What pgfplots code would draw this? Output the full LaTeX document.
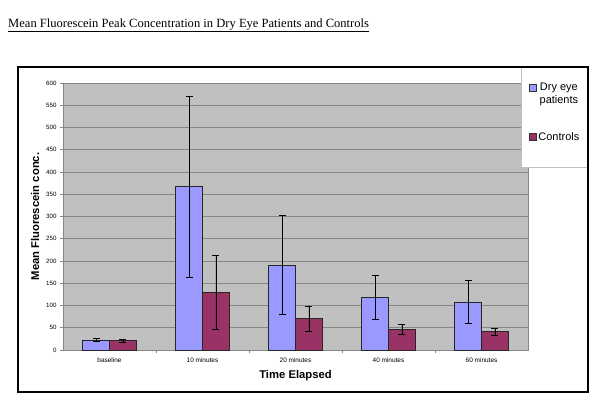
\documentclass[border=0pt]{standalone}
\usepackage{pgfplots}
\pgfplotsset{compat=1.18}
\usepackage{fontspec}
\setmainfont{Liberation Sans}
\newfontfamily\serif{Liberation Serif}
\definecolor{dryeye}{HTML}{9999FF}
\definecolor{ctrl}{HTML}{993366}
\definecolor{plotbg}{HTML}{C0C0C0}
\definecolor{gridc}{HTML}{868686}
\pgfplotsset{
  legimgA/.style={legend image code/.code={\draw[##1, draw=black!80, line width=0.6pt] (0bp,3bp) rectangle (7bp,10bp);}},
  legimgB/.style={legend image code/.code={\draw[##1, draw=black!80, line width=0.6pt] (0bp,-3.5bp) rectangle (7bp,3.5bp);}},
}
\pgfplotstableread{
x y err
0 22.5 3
1 367 203
2 191 111
3 118 49
4 108 49
}\dryeyedata
\pgfplotstableread{
x y err
0 21 3
1 129 83
2 70 29
3 46 11
4 41 8
}\controldata
\begin{document}
\begin{tikzpicture}[x=1bp,y=1bp]
\useasboundingbox (0,0) rectangle (600,407);
\node[anchor=base west, inner sep=0] at (8,380) {\serif\fontsize{12.6}{14}\selectfont\underline{Mean Fluorescein Peak Concentration in Dry Eye Patients and Controls}};
\begin{axis}[
  at={(63bp,57bp)}, anchor=south west,
  scale only axis, width=465bp, height=267bp,
  xmin=-0.5, xmax=4.5, ymin=0, ymax=600,
  ybar=0pt, bar width=0.29,
  axis background/.style={fill=plotbg},
  axis line style={gridc, line width=0.8pt},
  ymajorgrids, grid style={gridc, line width=0.8pt},
  ytick={0,50,...,600},
  xtick={0,1,2,3,4},
  xticklabels={baseline,10 minutes,20 minutes,40 minutes,60 minutes},
  minor xtick={0.5,1.5,2.5,3.5},
  major x tick style={draw=none},
  minor tick length=3bp,
  tick style={gridc, line width=0.6pt},
  major tick length=3bp,
  ytick pos=left, xtick pos=bottom,
  tick align=outside,
  yticklabel style={font=\fontsize{6.2}{7}\selectfont},
  xticklabel style={font=\fontsize{6.5}{7.5}\selectfont, yshift=-1bp},
  /pgf/number format/assume math mode=true,
  xlabel={Time Elapsed},
  ylabel={Mean Fluorescein conc.},
  xlabel style={font=\bfseries\fontsize{11.3}{13}\selectfont, at={(axis description cs:0.5,-0.097)}, anchor=center},
  ylabel style={font=\bfseries\fontsize{11.3}{13}\selectfont, at={(axis description cs:-0.06,0.5)}, anchor=center},
  clip=false,
  legend style={at={(axis description cs:0.995,1.015)}, anchor=north west, draw=none, fill=none,
    font=\fontsize{11}{13}\selectfont, row sep=23bp, nodes={align=center}},
]
\addplot[fill=dryeye, draw=black!85, line width=0.8pt, legimgA,
  error bars/.cd, y dir=both, y explicit,
  error bar style={black, line width=0.8pt},
  error mark options={rotate=90, mark size=3.5bp, line width=0.8pt, black}]
  table[x=x, y=y, y error=err]{\dryeyedata};
\addplot[fill=ctrl, draw=black!85, line width=0.8pt, legimgB,
  error bars/.cd, y dir=both, y explicit,
  error bar style={black, line width=0.8pt},
  error mark options={rotate=90, mark size=3.5bp, line width=0.8pt, black}]
  table[x=x, y=y, y error=err]{\controldata};
\draw[gray!50, fill=white] (axis description cs:0.985,1.06) rectangle (axis description cs:1.129,0.685);
\legend{Dry eye\\patients, Controls}
\end{axis}
\draw[line width=2bp] (18,15) rectangle (588,340);
\end{tikzpicture}
\end{document}
